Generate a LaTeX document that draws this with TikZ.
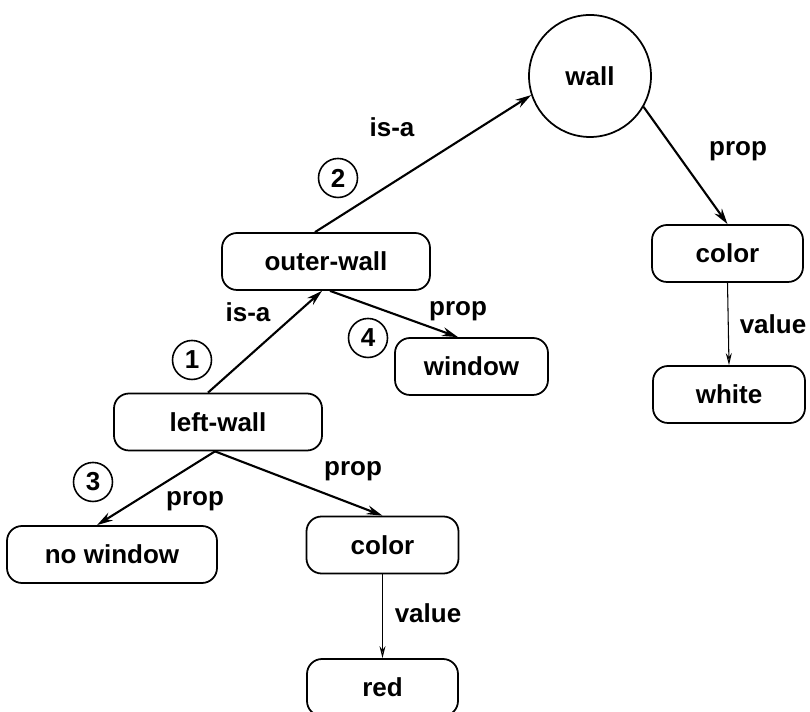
\documentclass[tikz,border=0pt]{standalone}
\usepackage{fontspec}
\setmainfont{Liberation Sans}
\usetikzlibrary{arrows.meta}

\begin{document}
\begin{tikzpicture}[
  font=\bfseries\fontsize{14.8}{17}\selectfont,
  concept/.style={draw, line width=1pt, rounded corners=0.3cm, minimum height=1.14cm, inner sep=0pt},
  root/.style={draw, line width=1pt, circle, minimum size=2.44cm, inner sep=0pt},
  num/.style={draw, line width=0.9pt, circle, minimum size=0.78cm, inner sep=0pt},
  rel/.style={line width=1.2pt, -{Stealth[length=3.2mm, width=1.8mm, fill=gray!45]}},
  val/.style={line width=0.6pt, -{Stealth[length=2.4mm, width=1.2mm, fill=gray!45]}},
]

\useasboundingbox (0, 0) rectangle (16.2, 14.24);

% Knoten
\node[root] (wall) at (11.80, 12.72) {wall};
\node[concept, minimum width=4.16cm] (ow) at (6.52, 9.01) {outer-wall};
\node[concept, minimum width=3.06cm] (win) at (9.43, 6.91) {window};
\node[concept, minimum width=4.16cm] (lw) at (4.36, 5.80) {left-wall};
\node[concept, minimum width=4.20cm] (nw) at (2.24, 3.15) {no window};
\node[concept, minimum width=3.04cm] (cl) at (7.65, 3.34) {color};
\node[concept, minimum width=3.02cm] (rd) at (7.65, 0.49) {red};
\node[concept, minimum width=3.02cm] (cr) at (14.55, 9.17) {color};
\node[concept, minimum width=3.04cm] (wh) at (14.58, 6.35) {white};

% Kanten
\draw[rel] ([xshift=-0.22cm]ow.north) -- (wall.198);
\draw[rel] ([xshift=-0.20cm]lw.north) -- ([xshift=-0.08cm]ow.south);
\draw[rel] ([xshift=0.08cm]ow.south) -- ([xshift=-0.27cm]win.north);
\draw[rel] (wall.-30) -- (cr.north);
\draw[val] (cr.south) -- (wh.north);
\draw[rel] ([xshift=-0.06cm]lw.south) -- ([xshift=-0.30cm]nw.north);
\draw[rel] ([xshift=-0.06cm]lw.south) -- (cl.north);
\draw[val] (cl.south) -- (rd.north);

% Beschriftungen
\node (isa1) at (7.84, 11.70) {is-a};
\node (isa2) at (4.96, 8.00) {is-a};
\node (p1) at (9.16, 8.02) {prop};
\node (p2) at (3.90, 4.22) {prop};
\node (p3) at (7.06, 4.82) {prop};
\node (p4) at (14.76, 11.22) {prop};
\node (v1) at (8.56, 1.98) {value};
\node (v2) at (15.46, 7.76) {value};

% Reihenfolge
\node[num] (n1) at (3.84, 7.04) {1};
\node[num] (n2) at (6.76, 10.68) {2};
\node[num] (n3) at (1.86, 4.60) {3};
\node[num] (n4) at (7.36, 7.48) {4};

\end{tikzpicture}
\end{document}
